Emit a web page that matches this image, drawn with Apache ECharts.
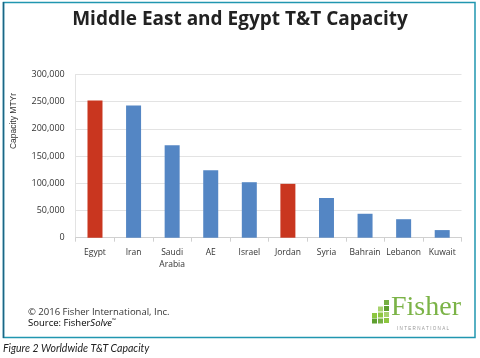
<!DOCTYPE html>
<html>
<head>
<meta charset="utf-8">
<script src="https://cdn.jsdelivr.net/npm/echarts@6/dist/echarts.min.js"></script>
<style>html,body{margin:0;padding:0;background:#fff;}#c{width:480px;height:358px;}</style>
</head>
<body>
<div id="c"></div>
<script>
const categories = ['Egypt', 'Iran', 'Saudi\nArabia', 'AE', 'Israel', 'Jordan', 'Syria', 'Bahrain', 'Lebanon', 'Kuwait'];
const capacity = [252000, 243000, 170000, 124000, 102000, 99000, 73000, 44000, 34000, 14000];
const highlighted = ['Egypt', 'Jordan'];
const yTicks = [0, 50000, 100000, 150000, 200000, 250000, 300000];

const RED = '#c9361f', BLUE = '#5486c4';
const chart = echarts.init(document.getElementById('c'), null, {renderer: 'canvas'});
const greens = ['#8dc63f', '#5e9f2e', '#a8d26e', '#76b043'];
const tiles = [
  [372, 313, 0], [372, 318.5, 1],
  [378, 306.5, 2], [378, 312.5, 0], [378, 318.5, 3],
  [384, 300, 3], [384, 306, 1], [384, 312, 2], [384, 318, 0]
].map(t => ({type: 'rect', shape: {x: t[0], y: t[1], width: 5, height: 5}, style: {fill: greens[t[2]]}}));

chart.setOption({
  animation: false,
  title: {
    text: 'Middle East and Egypt T&T Capacity',
    left: 'center', top: 5,
    textStyle: {fontFamily: 'Open Sans', fontWeight: 'bold', fontSize: 19, color: '#222'}
  },
  grid: {left: 75.7, right: 18.5, top: 74.5, bottom: 120.3},
  xAxis: {
    type: 'category', data: categories,
    axisLine: {lineStyle: {color: '#d0d0d0'}},
    axisTick: {show: true, lineStyle: {color: '#d0d0d0'}, length: 4},
    axisLabel: {interval: 0, fontFamily: 'Open Sans', fontSize: 8.5, color: '#333', margin: 9, lineHeight: 12}
  },
  yAxis: {
    type: 'value', min: yTicks[0], max: yTicks[yTicks.length - 1], interval: yTicks[1] - yTicks[0],
    axisLine: {show: true, lineStyle: {color: '#e3e3e3'}},
    axisTick: {show: false},
    splitLine: {lineStyle: {color: '#e3e3e3'}},
    axisLabel: {fontFamily: 'Open Sans', fontSize: 9, color: '#333', margin: 11,
      formatter: v => v.toLocaleString('en-US')}
  },
  series: [{
    type: 'bar', barWidth: 15,
    data: capacity.map((v, i) => ({
      value: v,
      itemStyle: {color: highlighted.includes(categories[i]) ? RED : BLUE}
    }))
  }],
  graphic: [
    {type: 'rect', shape: {x: 3.5, y: 2.5, width: 471.5, height: 335}, style: {fill: 'none', stroke: '#2196b0', lineWidth: 1.5}},
    {type: 'line', shape: {x1: 3.5, y1: 2, x2: 3.5, y2: 338}, style: {stroke: '#1b6585', lineWidth: 1.5}},
    {type: 'text', x: 14, y: 121, rotation: Math.PI / 2,
      style: {text: 'Capacity MTYr', fontFamily: 'Liberation Sans', fontSize: 8.5, fill: '#333', align: 'center', verticalAlign: 'middle'}},
    {type: 'text', x: 28, y: 312,
      style: {text: '© 2016 Fisher International, Inc.', fontFamily: 'Open Sans', fontSize: 9.5, fill: '#333', verticalAlign: 'middle'}},
    {type: 'text', x: 28, y: 323,
      style: {text: '{a|Source: Fisher}{b|Solve}{c|™}', verticalAlign: 'middle',
        rich: {a: {fontFamily: 'Open Sans', fontSize: 9.5, color: '#333'},
               b: {fontFamily: 'Open Sans', fontStyle: 'italic', fontSize: 9.5, color: '#333'},
               c: {fontFamily: 'Open Sans', fontSize: 5, color: '#333', verticalAlign: 'top'}}}},
    ...tiles,
    {type: 'text', x: 391, y: 322,
      style: {text: 'Fisher', fontFamily: 'Liberation Serif', fontSize: 28, fill: '#7bb347', verticalAlign: 'bottom'}},
    {type: 'text', x: 397, y: 329,
      style: {text: 'I N T E R N A T I O N A L', fontFamily: 'Liberation Sans', fontSize: 4.6, fill: '#999', verticalAlign: 'middle'}},
    {type: 'text', x: 3, y: 349,
      style: {text: 'Figure 2 Worldwide T&T Capacity', fontFamily: 'Lato', fontStyle: 'italic', fontSize: 10.5, fill: '#222', verticalAlign: 'middle'}}
  ]
});
</script>
</body>
</html>
